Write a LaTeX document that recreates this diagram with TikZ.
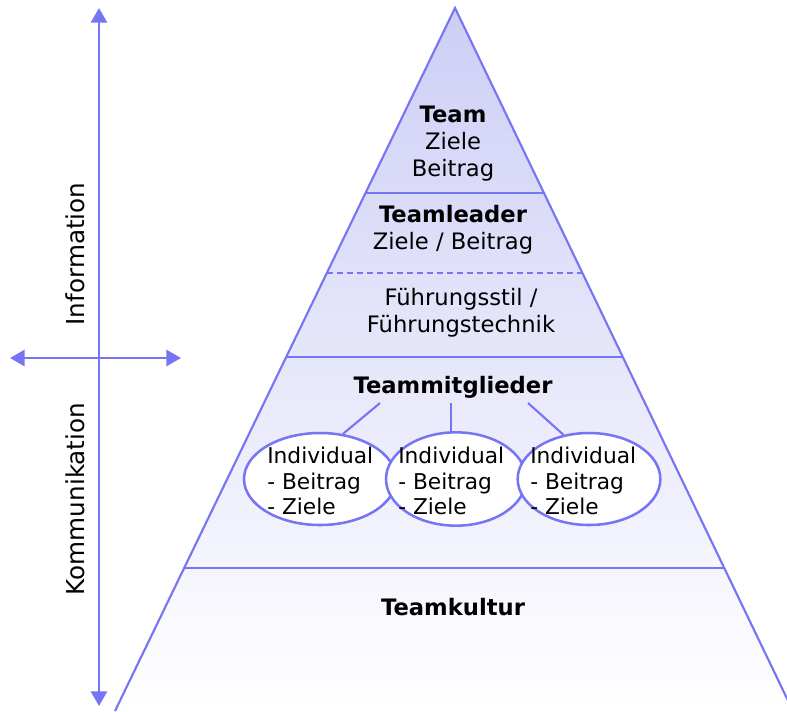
\documentclass[tikz,border=0pt]{standalone}
\usepackage{fontspec}
\setmainfont{DejaVu Sans}
\usetikzlibrary{shapes.geometric,arrows.meta,calc}
\definecolor{lineblue}{RGB}{118,118,245}
\definecolor{toplav}{RGB}{206,206,246}
\definecolor{midlav}{RGB}{228,228,250}
\tikzset{
  edge/.style={draw=lineblue, line width=1.6pt},
  axis/.style={draw=lineblue, line width=2.2pt, {Triangle[length=11pt,width=12pt]}-{Triangle[length=11pt,width=12pt]}},
  lbl/.style={align=center, inner sep=0pt, font=\fontsize{17}{20.3}\selectfont},
  sidelbl/.style={align=center, inner sep=0pt, rotate=90, font=\fontsize{18.5}{22}\selectfont},
  indiv/.style={ellipse, draw=lineblue, line width=1.9pt, fill=white, inner sep=0pt},
  itext/.style={align=left, anchor=west, inner sep=0pt, font=\fontsize{16.3}{19}\selectfont},
}
\begin{document}
\begin{tikzpicture}[x=0.75pt,y=-0.75pt]
\useasboundingbox (0,0) rectangle (787,711);
\fill[white] (0,0) rectangle (787,711);
\coordinate (A) at (455,8);
\coordinate (BL) at (115,711);
\coordinate (BR) at (793,711);
% fill of pyramid
\shade[top color=toplav, middle color=midlav, bottom color=white] (A) -- (BL) -- (BR) -- cycle;
% level points
\coordinate (l1) at ($(A)!0.2632!(BL)$); \coordinate (r1) at ($(A)!0.2632!(BR)$);
\coordinate (l2) at ($(A)!0.3770!(BL)$); \coordinate (r2) at ($(A)!0.3770!(BR)$);
\coordinate (l3) at ($(A)!0.4964!(BL)$); \coordinate (r3) at ($(A)!0.4964!(BR)$);
\coordinate (l4) at ($(A)!0.7966!(BL)$); \coordinate (r4) at ($(A)!0.7966!(BR)$);
\draw[edge] (l1) -- (r1);
\draw[edge, dash pattern=on 4.5pt off 3pt] (l2) -- (r2);
\draw[edge] (l3) -- (r3);
\draw[edge] (l4) -- (r4);
\draw[edge, line join=miter] (BL) -- (A) -- (BR);
% axes
\coordinate (vt) at (99,8);
\coordinate (vb) at (99,706);
\coordinate (hl) at (10,358);
\coordinate (hr) at (181,358);
\draw[axis] (vt) -- (vb);
\draw[axis] (hl) -- (hr);
\node[sidelbl] (info) at (75,254) {Information};
\node[sidelbl] (komm) at (75,499) {Kommunikation};
% texts
\node[lbl] (team) at (453,144) {\textbf{Team}\\Ziele\\Beitrag};
\node[lbl] (leader) at (453,230) {\textbf{Teamleader}\\Ziele / Beitrag};
\node[lbl] (stil) at (461,313) {Führungsstil /\\Führungstechnik};
\node[lbl] (tm) at (453,387) {\textbf{Teammitglieder}};
\node[lbl] (kultur) at (453,607) {\textbf{Teamkultur}};
% ellipses
\node[indiv, minimum width=114pt, minimum height=69pt] (e1) at (320,479) {};
\node[indiv, minimum width=105pt, minimum height=70pt] (e2) at (456,479) {};
\node[indiv, minimum width=107pt, minimum height=69pt] (e3) at (589,479) {};
\node[itext] (t1) at (267,481) {Individual\\- Beitrag\\- Ziele};
\node[itext] (t2) at (398,481) {Individual\\- Beitrag\\- Ziele};
\node[itext] (t3) at (530,481) {Individual\\- Beitrag\\- Ziele};
% connectors
\coordinate (c1) at (380,403);
\coordinate (c2) at (451,403);
\coordinate (c3) at (528,403);
\draw[edge] (c1) -- (e1.63);
\draw[edge] (c2) -- (c2 |- e2.north);
\draw[edge] (c3) -- (e3.120);
\end{tikzpicture}
\end{document}
